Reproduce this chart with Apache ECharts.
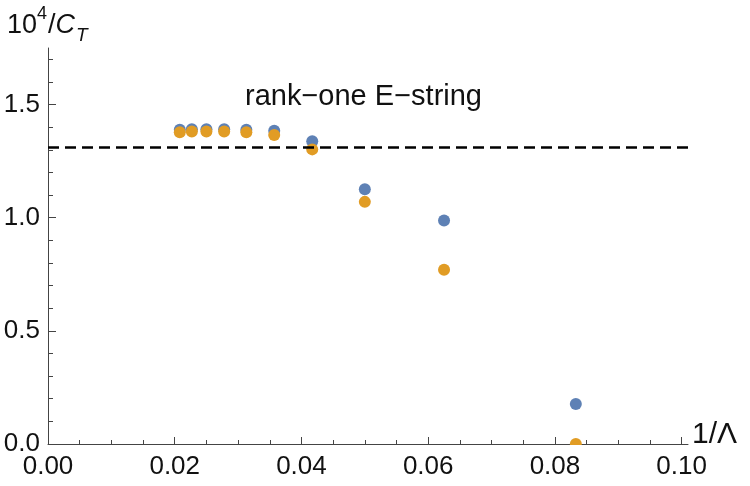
<!DOCTYPE html>
<html>
<head>
<meta charset="utf-8">
<script src="https://cdn.jsdelivr.net/npm/echarts@6/dist/echarts.min.js"></script>
<style>
  html, body { margin: 0; padding: 0; background: #fff; }
  #chart { width: 750px; height: 486px; }
</style>
</head>
<body>
<div id="chart"></div>
<script>
// x positions: 1/Λ
const invLambda = [0.0208, 0.0227, 0.0250, 0.0278, 0.0313, 0.0357, 0.0417, 0.0500, 0.0625, 0.0833];
// series 1 (blue)
const seriesBlue = [1.389, 1.391, 1.391, 1.391, 1.389, 1.384, 1.338, 1.126, 0.988, 0.177];
// series 2 (orange)
const seriesOrange = [1.378, 1.381, 1.381, 1.381, 1.378, 1.366, 1.302, 1.070, 0.770, 0.0];
// rank-one E-string reference level
const eStringLevel = 1.313;
const eStringLabel = 'rank\u2212one E\u2212string';

// ticks
const xMajorTicks = [0, 0.02, 0.04, 0.06, 0.08, 0.10];
const xMinorTicks = [0.005, 0.01, 0.015, 0.025, 0.03, 0.035, 0.045, 0.05, 0.055, 0.065, 0.07, 0.075, 0.085, 0.09, 0.095];
const yMajorTicks = [0, 0.5, 1.0, 1.5];
const yMinorTicks = [0.1, 0.2, 0.3, 0.4, 0.6, 0.7, 0.8, 0.9, 1.1, 1.2, 1.3, 1.4, 1.6, 1.7];

const FONT = '"Liberation Sans", Arial, sans-serif';
const axisColor = '#444';
const textColor = '#111';

const chart = echarts.init(document.getElementById('chart'), null, { renderer: 'canvas' });

const blueData = invLambda.map((x, i) => [x, seriesBlue[i]]);
const orangeData = invLambda.map((x, i) => [x, seriesOrange[i]]);

const xBase = {
  type: 'value', min: 0, max: 0.101, position: 'bottom',
  splitLine: { show: false }
};
const yBase = {
  type: 'value', min: 0, max: 1.75, position: 'left',
  splitLine: { show: false }
};

chart.setOption({
  animation: false,
  backgroundColor: '#fff',
  title: {
    left: 2, top: 0,
    text: '{a|10}{sup|4}{a|/}{i|C}{sub|T}',
    textStyle: {
      fontWeight: 'normal',
      rich: {
        a: { fontFamily: FONT, fontSize: 27, fontWeight: 'normal', color: textColor, lineHeight: 36, verticalAlign: 'bottom', padding: [0,0,2,0] },
        sup: { fontFamily: FONT, fontSize: 18, fontWeight: 'normal', color: textColor, verticalAlign: 'top', padding: [0,1,0,0] },
        i: { fontFamily: FONT, fontSize: 27, fontWeight: 'normal', fontStyle: 'italic', color: textColor, verticalAlign: 'bottom', padding: [0,0,2,0] },
        sub: { fontFamily: FONT, fontSize: 19, fontWeight: 'normal', fontStyle: 'italic', color: textColor, verticalAlign: 'bottom', padding: [0,0,-4,1] }
      }
    }
  },
  grid: { left: 48, right: 62, top: 48, bottom: 42, containLabel: false, outerBoundsMode: 'none' },
  xAxis: [
    Object.assign({}, xBase, {
      name: '1/\u039B',
      nameLocation: 'end',
      nameGap: 4,
      nameMoveOverlap: false,
      nameTextStyle: { fontFamily: FONT, fontSize: 30, color: textColor, verticalAlign: 'bottom', padding: [0, 0, -6, 0] },
      axisLine: { show: true, lineStyle: { color: axisColor, width: 1 } },
      axisTick: { show: true, inside: true, length: 7, customValues: xMajorTicks, lineStyle: { color: axisColor } },
      axisLabel: { show: true, customValues: xMajorTicks, margin: 10, fontFamily: FONT, fontSize: 26, color: textColor,
        formatter: v => v.toFixed(2) }
    }),
    Object.assign({}, xBase, {
      axisLine: { show: false },
      axisTick: { show: true, inside: true, length: 4, customValues: xMinorTicks, lineStyle: { color: axisColor } },
      axisLabel: { show: false }
    })
  ],
  yAxis: [
    Object.assign({}, yBase, {
      axisLine: { show: true, lineStyle: { color: axisColor, width: 1 } },
      axisTick: { show: true, inside: true, length: 8, customValues: yMajorTicks, lineStyle: { color: axisColor } },
      axisLabel: { show: true, customValues: yMajorTicks, margin: 8, fontFamily: FONT, fontSize: 26, color: textColor,
        formatter: v => v.toFixed(1) }
    }),
    Object.assign({}, yBase, {
      axisLine: { show: false },
      axisTick: { show: true, inside: true, length: 5, customValues: yMinorTicks, lineStyle: { color: axisColor } },
      axisLabel: { show: false }
    })
  ],
  series: [
    {
      type: 'scatter', xAxisIndex: 0, yAxisIndex: 0,
      data: blueData, symbol: 'circle', symbolSize: 12,
      itemStyle: { color: '#5E81B5', opacity: 1 },
      z: 3,
      markLine: {
        silent: true, symbol: ['none', 'none'],
        label: { show: false },
        lineStyle: { color: '#000', width: 2.6, type: [11, 6], opacity: 1 },
        data: [{ yAxis: eStringLevel }]
      }
    },
    {
      type: 'scatter', xAxisIndex: 0, yAxisIndex: 0,
      data: orangeData, symbol: 'circle', symbolSize: 12,
      itemStyle: { color: '#E19C24', opacity: 1 },
      z: 4
    }
  ],
  graphic: [
    {
      type: 'text', left: 245, top: 82, z: 10,
      style: { text: eStringLabel, fontFamily: FONT, fontSize: 29, fill: textColor }
    },
    {
      // mask below the x axis to clip points like the plot range does
      type: 'rect', z: 10, silent: true,
      shape: { x: 49, y: 445, width: 640, height: 7 },
      style: { fill: '#fff' }
    }
  ]
});
</script>
</body>
</html>
